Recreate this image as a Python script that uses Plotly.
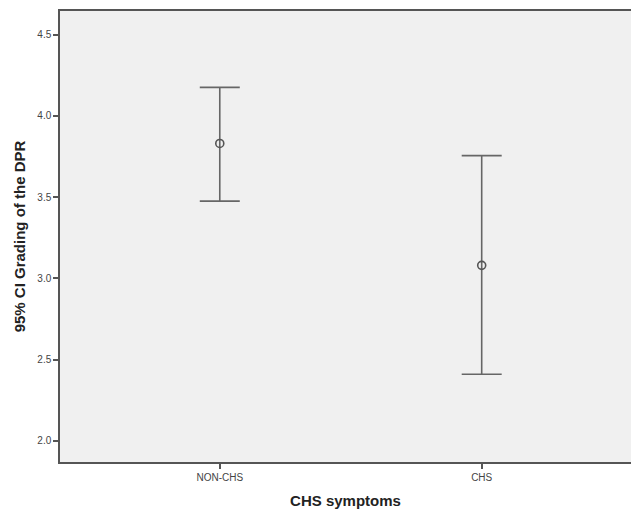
import plotly.graph_objects as go

categories = ["NON-CHS", "CHS"]
means = [3.83, 3.08]
lower = [3.475, 2.41]
upper = [4.175, 3.755]

x_pos = [0, 1]
err_plus = [u - m for u, m in zip(upper, means)]
err_minus = [m - l for m, l in zip(means, lower)]

fig = go.Figure()
fig.add_trace(go.Scatter(
    x=x_pos, y=means, mode="markers",
    marker=dict(symbol="circle-open", size=8, color="#555555", line=dict(width=1.6, color="#555555")),
    error_y=dict(type="data", symmetric=False, array=err_plus, arrayminus=err_minus,
                 color="#666666", thickness=1.6, width=20),
    showlegend=False,
))

fig.update_layout(
    width=631, height=509,
    margin=dict(l=60, r=0, t=11, b=47),
    paper_bgcolor="white",
    plot_bgcolor="#F0F0F0",
    font=dict(family="Liberation Sans, Arial, sans-serif", color="#444444"),
)
fig.update_xaxes(
    range=[-0.61, 1.57], tickvals=x_pos, ticktext=categories,
    showgrid=False, zeroline=False,
    showline=True, linecolor="#555555", linewidth=1.5, mirror=True,
    ticks="outside", ticklen=5, tickwidth=1.5, tickcolor="#555555",
    tickfont=dict(size=10, color="#444444"),
    title=dict(text="<b>CHS symptoms</b>", font=dict(size=15, color="#222222"), standoff=16),
)
fig.update_yaxes(
    range=[1.87, 4.645], tickvals=[2.0, 2.5, 3.0, 3.5, 4.0, 4.5],
    ticktext=["2.0", "2.5", "3.0", "3.5", "4.0", "4.5"],
    showgrid=False, zeroline=False,
    showline=True, linecolor="#555555", linewidth=1.5,
    ticks="outside", ticklen=5, tickwidth=1.5, tickcolor="#555555",
    tickfont=dict(size=10, color="#444444"),
    title=dict(text="<b>95% CI Grading of the DPR</b>", font=dict(size=15, color="#222222"), standoff=8),
)

fig.write_html("out.html")
